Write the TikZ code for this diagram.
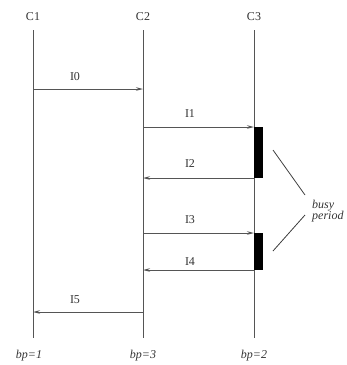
\documentclass[tikz,border=0pt]{standalone}
\usepackage{fontspec}
\setmainfont{Liberation Serif}
\usetikzlibrary{arrows.meta,calc}
\definecolor{linegray}{HTML}{555555}
\begin{document}
\begin{tikzpicture}[x=1pt,y=-1pt,
  lifeline/.style={draw=linegray, line width=0.9pt},
  msg/.style={draw=linegray, line width=0.9pt, -{Stealth[length=7pt,width=3.5pt]}},
  lbl/.style={font=\fontsize{12}{14}\selectfont, text=black!80, inner sep=1pt},
  busybar/.style={fill=black, draw=none},
  pointer/.style={draw=black!75, line width=0.8pt},
  note/.style={font=\fontsize{12}{14}\selectfont\itshape, text=black!80, inner sep=0pt, align=left}]
  \useasboundingbox (0,0) rectangle (347,365);

  % process headers
  \node[lbl] (c1) at (33,17) {C1};
  \node[lbl] (c2) at (143,17) {C2};
  \node[lbl] (c3) at (254,17) {C3};

  % lifelines
  \coordinate (t1) at (33,30);  \coordinate (e1) at (33,338);
  \coordinate (t2) at (143,30); \coordinate (e2) at (143,338);
  \coordinate (t3) at (254,30); \coordinate (e3) at (254,338);
  \draw[lifeline] (t1) -- (e1);
  \draw[lifeline] (t2) -- (e2);
  \draw[lifeline] (t3) -- (e3);

  % message end points
  \coordinate (m0a) at (33,89);   \coordinate (m0b) at (143,89);
  \coordinate (m1a) at (143,127); \coordinate (m1b) at (254,127);
  \coordinate (m2a) at (254,178); \coordinate (m2b) at (143,178);
  \coordinate (m3a) at (143,233); \coordinate (m3b) at (254,233);
  \coordinate (m4a) at (254,270); \coordinate (m4b) at (143,270);
  \coordinate (m5a) at (143,312); \coordinate (m5b) at (33,312);

  % busy periods on C3
  \path[busybar] (m1b) rectangle ($(m2a)+(9,0)$);
  \path[busybar] (m3b) rectangle ($(m4a)+(9,0)$);

  % messages
  \draw[msg] (m0a) -- (m0b);
  \draw[msg] (m1a) -- (m1b);
  \draw[msg] (m2a) -- (m2b);
  \draw[msg] (m3a) -- (m3b);
  \draw[msg] (m4a) -- (m4b);
  \draw[msg] (m5a) -- (m5b);

  % message labels
  \node[lbl] (l0) at (75,77)  {I0};
  \node[lbl] (l1) at (190,114) {I1};
  \node[lbl] (l2) at (190,164) {I2};
  \node[lbl] (l3) at (190,220) {I3};
  \node[lbl] (l4) at (190,262) {I4};
  \node[lbl] (l5) at (75,300) {I5};

  % busy period annotation
  \node[note, anchor=west] (bp) at (312,211) {busy\\[-3pt]period};
  \coordinate (p1s) at (273,150); \coordinate (p1e) at (305,195);
  \coordinate (p2s) at (305,215); \coordinate (p2e) at (273,251);
  \draw[pointer] (p1s) -- (p1e);
  \draw[pointer] (p2s) -- (p2e);

  % counters
  \node[note] (bp1) at (29,356)  {bp=1};
  \node[note] (bp3) at (143,356) {bp=3};
  \node[note] (bp2) at (254,356) {bp=2};
\end{tikzpicture}
\end{document}
